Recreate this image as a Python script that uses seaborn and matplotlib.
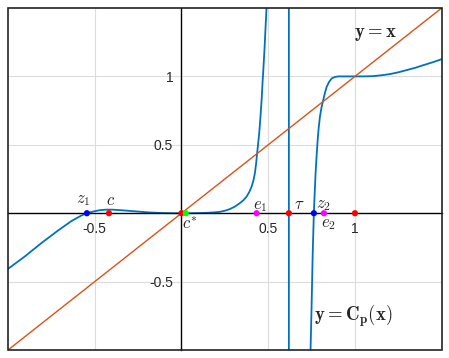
import matplotlib
matplotlib.use('Agg')
import matplotlib.pyplot as plt
import seaborn as sns
from matplotlib.patches import Rectangle

# curve y = C_p(x) (pole near tau)
curve_x = [-1.0, -0.904, -0.808, -0.712, -0.635, -0.577, -0.545, -0.51, -0.471,
           -0.433, -0.40, -0.35, -0.30, -0.24, -0.19, -0.144, -0.10, -0.05, 0.0,
           0.05, 0.10, 0.15, 0.19, 0.221, 0.25, 0.279, 0.31, 0.336, 0.357, 0.375,
           0.391, 0.404, 0.415, 0.423, 0.430, 0.436, 0.442, 0.448, 0.453, 0.458,
           0.463, 0.467, 0.471, 0.475, 0.479, 0.483, 0.487, 0.49, 0.50, 0.55,
           0.6189, 0.6191, 0.68, 0.72, 0.744, 0.75, 0.756, 0.763, 0.768, 0.773,
           0.779, 0.785, 0.791, 0.798, 0.807, 0.817, 0.827, 0.837, 0.851, 0.866,
           0.885, 0.904, 0.93, 0.96, 1.0, 1.05, 1.106, 1.15, 1.202, 1.25, 1.298,
           1.35, 1.394, 1.45, 1.5]
curve_y = [-0.407, -0.317, -0.219, -0.127, -0.058, -0.017, 0.0, 0.012, 0.022,
           0.026, 0.026, 0.022, 0.017, 0.011, 0.006, 0.003, 0.001, 0.0, 0.0,
           0.0, 0.001, 0.003, 0.006, 0.01, 0.018, 0.03, 0.05, 0.073, 0.095, 0.121,
           0.155, 0.194, 0.24, 0.292, 0.36, 0.438, 0.51, 0.584, 0.665, 0.754,
           0.85, 0.949, 1.03, 1.119, 1.21, 1.314, 1.42, 1.496, 1.75, 4.0,
           60.0, -60.0, -6.0, -2.0, -1.0, -0.68, -0.317, 0.0, 0.15, 0.292,
           0.42, 0.535, 0.625, 0.705, 0.772, 0.827, 0.88, 0.924, 0.96, 0.985,
           0.996, 1.0, 1.0, 1.0, 1.0, 1.0, 1.002, 1.008, 1.017, 1.03, 1.046,
           1.064, 1.082, 1.104, 1.126]

# identity line y = x
diag_x = [-1.0, 1.5]
diag_y = [-1.0, 1.5]

# marked points on the x axis
pt_x = [-0.545, -0.418, 0.0, 0.025, 0.433, 0.619, 0.763, 0.821, 1.0]
pt_color = ['#0000FF', '#FF0000', '#FF0000', '#00FF00', '#FF00FF',
            '#FF0000', '#0000FF', '#FF00FF', '#FF0000']

# point labels
lab_text = [r'$z_1$', r'$c$', r'$c^{*}$', r'$e_1$', r'$\tau$', r'$z_2$', r'$e_2$']
lab_x = [-0.567, -0.408, 0.048, 0.455, 0.677, 0.821, 0.85]
lab_y = [0.093, 0.09, -0.074, 0.046, 0.06, 0.057, -0.085]

xticks = [-0.5, 0.5, 1]
yticks = [-0.5, 0.5, 1]
xtick_labels = ['-0.5', '0.5', '1']
ytick_labels = ['-0.5', '0.5', '1']

sns.set_style('white')
plt.rcParams['font.family'] = ['Liberation Sans', 'DejaVu Sans']
plt.rcParams['mathtext.fontset'] = 'cm'

fig = plt.figure(figsize=(4.49, 3.58), dpi=100)
ax = fig.add_axes([8 / 449, 8 / 358, 433.7 / 449, 342 / 358])

# grid lines
for gx in xticks:
    ax.axvline(gx, color='#dcdcdc', lw=0.8, zorder=0)
for gy in yticks:
    ax.axhline(gy, color='#dcdcdc', lw=0.8, zorder=0)

sns.lineplot(x=curve_x, y=curve_y, ax=ax, color='#0072BD', lw=1.3,
             estimator=None, sort=False, zorder=2)
sns.lineplot(x=diag_x, y=diag_y, ax=ax, color='#D95319', lw=1.0,
             estimator=None, sort=False, zorder=3)
sns.scatterplot(x=pt_x, y=[0] * len(pt_x), ax=ax, c=pt_color, s=20,
                linewidth=0, zorder=5)

for t, lx, ly in zip(lab_text, lab_x, lab_y):
    ax.text(lx, ly, t, fontsize=12, ha='center', va='center')

ax.text(1.115, 1.308, r'$\mathbf{y = x}$', fontsize=13.5, ha='center', va='center')
ax.text(0.988, -0.753, r'$\mathbf{y = C_p(x)}$', fontsize=13.5, ha='center', va='center')

ax.set_xlim(-1.0, 1.5)
ax.set_ylim(-1.0, 1.5)

# axes through the origin
ax.spines['left'].set_position(('data', 0))
ax.spines['bottom'].set_position(('data', 0))
ax.spines['top'].set_visible(False)
ax.spines['right'].set_visible(False)
for s in ['left', 'bottom']:
    ax.spines[s].set_color('black')
    ax.spines[s].set_linewidth(1.0)
ax.add_patch(Rectangle((0, 0), 1, 1, transform=ax.transAxes, fill=False,
                       edgecolor='#222222', lw=1.2, clip_on=False, zorder=6))

ax.set_xticks(xticks)
ax.set_xticklabels(xtick_labels)
ax.set_yticks(yticks)
ax.set_yticklabels(ytick_labels)
ax.tick_params(axis='both', direction='in', length=3, width=0.6,
               labelsize=10, colors='#262626', pad=6)

fig.savefig('out.png', dpi=100)
